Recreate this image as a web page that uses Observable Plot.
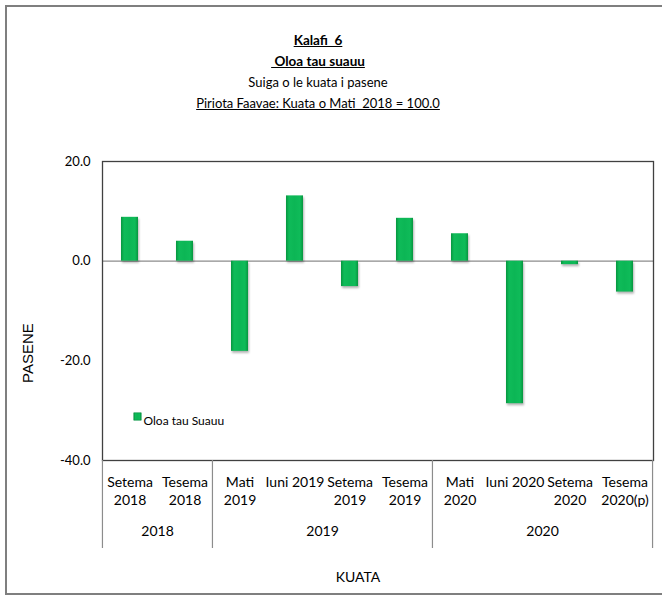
<!DOCTYPE html>
<html>
<head>
<meta charset="utf-8">
<script src="https://cdn.jsdelivr.net/npm/d3@7"></script>
<script src="https://cdn.jsdelivr.net/npm/@observablehq/plot@0.6"></script>
<style>
  html, body { margin: 0; padding: 0; background: #fff; overflow: hidden; }
  #wrap { position: relative; width: 662px; height: 595px; overflow: hidden; font-family: Lato, "Open Sans", sans-serif; }
  #border { position: absolute; left: 5px; top: 5px; width: 700px; height: 586px; border: 2px solid #7f7f7f; border-right: none; }
  #title { position: absolute; left: 0; top: 30px; width: 636px; text-align: center; font-size: 13px; color: #000; line-height: 21px; }
  #title .b { font-weight: bold; text-decoration: underline; font-size: 13.5px; }
  #title .u { text-decoration: underline; }
  #chart { position: absolute; left: 0; top: 150px; }
</style>
</head>
<body>
<div id="wrap">
  <div id="border"></div>
  <div id="title">
    <div class="b">Kalafi&nbsp; 6</div>
    <div class="b">&nbsp;Oloa tau suauu</div>
    <div>Suiga o le kuata i pasene</div>
    <div class="u">Piriota Faavae: Kuata o Mati&nbsp; 2018 = 100.0</div>
  </div>
  <div id="chart"></div>
</div>
<script>
const categories = ["Setema 2018", "Tesema 2018", "Mati 2019", "Iuni 2019", "Setema 2019", "Tesema 2019", "Mati 2020", "Iuni 2020", "Setema 2020", "Tesema 2020(p)"];
const tickLabels = ["Setema\n2018", "Tesema\n2018", "Mati\n2019", "Iuni 2019", "Setema\n2019", "Tesema\n2019", "Mati\n2020", "Iuni 2020", "Setema\n2020", "Tesema\n2020(p)"];
const values = [8.8, 4.0, -18.1, 13.1, -5.1, 8.6, 5.5, -28.6, -0.7, -6.2];
const groupLabels = ["2018", "2019", "2020"];
const groupCenterCats = ["Setema 2018", "Iuni 2019", "Iuni 2020"];
const groupStartCats = ["Setema 2018", "Mati 2019", "Mati 2020"];
const yTicks = [-40, -20, 0, 20];
const seriesName = "Oloa tau Suauu";
const yTitle = "PASENE";
const xTitle = "KUATA";

const data = categories.map((c, i) => ({cat: c, value: values[i], label: tickLabels[i]}));
const groups = groupLabels.map((g, i) => ({label: g, cat: groupCenterCats[i]}));

const W = 662, H = 445;
const mL = 102, mR = 9, mT = 11, mB = 135;
const step = (W - mL - mR) / categories.length;
const plotH = H - mT - mB;
const font = "Lato, 'Open Sans', sans-serif";

const plot = Plot.plot({
  width: W,
  height: H,
  marginLeft: mL,
  marginRight: mR,
  marginTop: mT,
  marginBottom: mB,
  style: {fontFamily: font, fontSize: "14px", color: "#000", background: "transparent", overflow: "visible"},
  x: {type: "band", domain: categories, paddingInner: 0.69, paddingOuter: 0.345, axis: null},
  y: {domain: [-40, 20], axis: null},
  marks: [
    Plot.ruleY([0], {stroke: "#8c8c8c", strokeWidth: 1.2}),
    Plot.barY(data, {x: "cat", y: "value", fill: "url(#barGrad)"}),
    Plot.frame({stroke: "#404040", strokeWidth: 1.3}),
    Plot.axisY({ticks: yTicks, tickFormat: d => d.toFixed(1), tickSize: 0, tickPadding: 12, fontSize: 13, label: null}),
    Plot.text(data, {x: "cat", text: "label", frameAnchor: "bottom", dy: 14, lineAnchor: "top", lineHeight: 1.29, fontSize: 14}),
    Plot.text(groups, {x: "cat", text: "label", frameAnchor: "bottom", dx: step / 2, dy: 75, fontSize: 14}),
    Plot.ruleX(groupStartCats, {dx: -step / 2, insetTop: plotH, insetBottom: -88, stroke: "#8c8c8c", strokeWidth: 1.2}),
    Plot.ruleX([categories[categories.length - 1]], {dx: step / 2, insetTop: plotH, insetBottom: -88, stroke: "#8c8c8c", strokeWidth: 1.2}),
    Plot.text([xTitle], {frameAnchor: "bottom", dx: -20, dy: 121, fontSize: 14}),
    Plot.text([yTitle], {frameAnchor: "left", dx: -74, dy: 72, rotate: -90, fontSize: 15, fontFamily: "'Liberation Sans', Arial, sans-serif", letterSpacing: 1}),
    Plot.dot([seriesName], {frameAnchor: "top-left", dx: 35, dy: 255, symbol: "square", r: 4.2, fill: "url(#barGrad)", stroke: "#0a8f42", strokeWidth: 0.6}),
    Plot.text([seriesName], {frameAnchor: "top-left", dx: 41, dy: 255, textAnchor: "start", fontSize: 12})
  ]
});

// gradient definition for Excel-like bevel
const ns = "http://www.w3.org/2000/svg";
const defs = document.createElementNS(ns, "defs");
defs.innerHTML = `
  <linearGradient id="barGrad" x1="0" y1="0" x2="1" y2="0">
    <stop offset="0" stop-color="#07963f"/>
    <stop offset="0.18" stop-color="#0fbb59"/>
    <stop offset="0.5" stop-color="#0cb655"/>
    <stop offset="0.82" stop-color="#0fbb59"/>
    <stop offset="1" stop-color="#07963f"/>
  </linearGradient>`;
plot.insertBefore(defs, plot.firstChild);
plot.querySelectorAll('g[aria-label="bar"]').forEach(g => g.style.filter = "drop-shadow(1px 2px 1px rgba(0,0,0,0.3))");
document.getElementById("chart").appendChild(plot);
</script>
</body>
</html>
